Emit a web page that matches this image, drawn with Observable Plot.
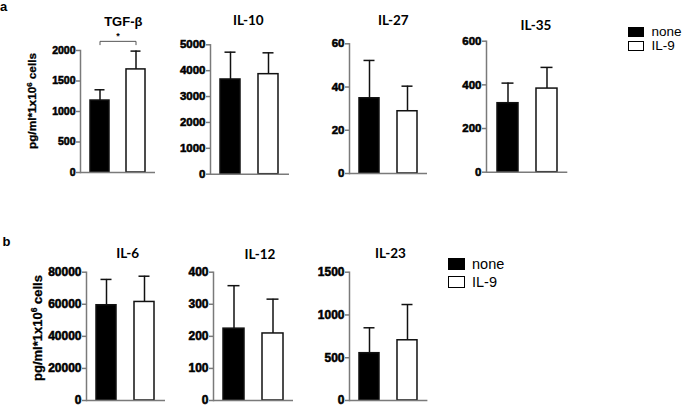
<!DOCTYPE html>
<html><head><meta charset="utf-8">
<script src="https://cdn.jsdelivr.net/npm/d3@7"></script>
<script src="https://cdn.jsdelivr.net/npm/@observablehq/plot@0.6"></script>
<style>
body{margin:0;background:#fff;}
#root{position:relative;width:685px;height:406px;overflow:hidden;font-family:"Liberation Sans",Arial,sans-serif;color:#000;}
.abs{position:absolute;white-space:nowrap;line-height:1;}
.ttl{transform:translate(-50%,-50%);font-weight:bold;font-family:Lato,"Liberation Sans",sans-serif;font-size:13.5px;}
.ylab{transform:translate(-50%,-50%) rotate(-90deg);font-weight:bold;-webkit-text-stroke:0.3px #000;}
.ylab sup{font-size:0.65em;vertical-align:0.55em;line-height:0;}
.sw{position:absolute;box-sizing:border-box;border:1.5px solid #000;}
.leg{position:absolute;transform:translateY(-50%);line-height:1;}
.plot{position:absolute;}
.plot text{font-weight:bold !important;font-family:"Liberation Sans",Arial,sans-serif !important;}
.plot g[aria-label="y-axis tick label"] text, .plot g[aria-label="y-axis tick label"]{stroke:#000 !important;stroke-width:0.55px !important;}
</style></head>
<body><div id="root"></div>
<script>
// ---- data ----
const groups = ["none", "IL-9"];

const tgfMean = [1180, 1690];
const tgfSD = [176, 300];
const tgfTicks = [0, 500, 1000, 1500, 2000];

const il10Mean = [3660, 3865];
const il10SD = [1055, 825];
const il10Ticks = [0, 1000, 2000, 3000, 4000, 5000];

const il27Mean = [34.8, 28.8];
const il27SD = [17.5, 11.6];
const il27Ticks = [0, 20, 40, 60];

const il35Mean = [316, 383];
const il35SD = [92, 97];
const il35Ticks = [0, 200, 400, 600];

const il6Mean = [59400, 61450];
const il6SD = [16100, 16050];
const il6Ticks = [0, 20000, 40000, 60000, 80000];

const il12Mean = [224, 209];
const il12SD = [134, 107];
const il12Ticks = [0, 100, 200, 300, 400];

const il23Mean = [553, 704];
const il23SD = [297, 418];
const il23Ticks = [0, 500, 1000, 1500];

// significance bracket (TGF-β), in data units
const sigX = ["none", "none", "IL-9", "IL-9"];
const sigY = [2095, 2150, 2150, 2095];
const sigStarY = 2235;

const titles = ["TGF-β", "IL-10", "IL-27", "IL-35", "IL-6", "IL-12", "IL-23"];
const yLabel = "pg/ml*1x10<sup>6</sup> cells";

// ---- drawing ----
const root = document.getElementById("root");
const axisColor = "#7a7a7a";

function panel({means, sds, ticks, axisX, endX, yTop, y0, top, fontSize, MB, bracket}) {
  const ML = 60, MR = 3;
  const data = groups.map((g, i) => ({g, m: means[i], e: means[i] + sds[i]}));
  const marks = [
    Plot.ruleX(data, {x: "g", y1: "m", y2: "e", stroke: "#111", strokeWidth: 1.5}),
    Plot.tickY(data, {x: "g", y: "e", stroke: "#111", strokeWidth: 1.5, insetLeft: 4.5, insetRight: 4.5}),
    Plot.barY(data, {x: "g", y: "m", fill: "g", stroke: "#111", strokeWidth: 1.5}),
    Plot.ruleY([0], {stroke: axisColor, strokeWidth: 1.5}),
    Plot.frame({anchor: "left", stroke: axisColor, strokeWidth: 1.5}),
    Plot.axisY({ticks, tickSize: 4, tickPadding: 1, tickFormat: "d", stroke: axisColor, strokeWidth: 1.5, fill: "#000", fontWeight: "bold", fontSize})
  ];
  if (bracket) {
    const bd = sigX.map((x, i) => ({x, y: sigY[i]}));
    marks.push(Plot.line(bd, {x: "x", y: "y", stroke: "#555", strokeWidth: 1}));
    marks.push(Plot.text(["*"], {frameAnchor: "middle", y: () => sigStarY, text: d => d, fontSize: 9, fontWeight: "bold"}));
  }
  const chart = Plot.plot({
    width: ML + (endX - axisX) + MR,
    height: (y0 - top) + MB,
    marginLeft: ML, marginRight: MR, marginTop: yTop - top, marginBottom: MB,
    x: {domain: groups, paddingInner: 0.47, paddingOuter: 0.26, axis: null},
    y: {domain: [ticks[0], ticks[ticks.length - 1]]},
    color: {domain: groups, range: ["#000", "#fff"]},
    style: {fontFamily: "'Liberation Sans', Arial, sans-serif", fontSize: fontSize + "px", fontWeight: "bold", overflow: "visible", background: "transparent"},
    marks
  });
  chart.classList.add("plot");
  chart.style.left = (axisX - ML) + "px";
  chart.style.top = top + "px";
  root.appendChild(chart);
}

panel({means: tgfMean, sds: tgfSD, ticks: tgfTicks, axisX: 80, endX: 155, yTop: 50, y0: 172, top: 0, fontSize: 10.5, MB: 8, bracket: true});
panel({means: il10Mean, sds: il10SD, ticks: il10Ticks, axisX: 210, endX: 289, yTop: 44.3, y0: 173.7, top: 0, fontSize: 11.5, MB: 8});
panel({means: il27Mean, sds: il27SD, ticks: il27Ticks, axisX: 349, endX: 427, yTop: 43.3, y0: 173, top: 0, fontSize: 11.5, MB: 8});
panel({means: il35Mean, sds: il35SD, ticks: il35Ticks, axisX: 485.7, endX: 567, yTop: 40.7, y0: 171.7, top: 0, fontSize: 11.5, MB: 8});
panel({means: il6Mean, sds: il6SD, ticks: il6Ticks, axisX: 86, endX: 165, yTop: 271.7, y0: 400, top: 200, fontSize: 12, MB: 6});
panel({means: il12Mean, sds: il12SD, ticks: il12Ticks, axisX: 213, endX: 293, yTop: 271.7, y0: 400, top: 200, fontSize: 12, MB: 6});
panel({means: il23Mean, sds: il23SD, ticks: il23Ticks, axisX: 349.3, endX: 427.7, yTop: 271.7, y0: 400, top: 200, fontSize: 12, MB: 6});

// titles
const titlePos = [[123.3, 20.7], [248.3, 20.7], [393.3, 21], [536, 25.5], [127.7, 254], [260, 254.7], [390.5, 254.3]];
titles.forEach((t, i) => {
  const d = document.createElement("div");
  d.className = "abs ttl";
  d.textContent = t;
  if (i === 0) { d.style.fontFamily = "'Liberation Sans', Arial, sans-serif"; d.style.fontSize = "13px"; }
  d.style.left = titlePos[i][0] + "px";
  d.style.top = titlePos[i][1] + "px";
  root.appendChild(d);
});

// y labels
[[33, 100.8, 11.8], [36.7, 328, 13]].forEach(([x, y, fs]) => {
  const d = document.createElement("div");
  d.className = "abs ylab";
  d.innerHTML = yLabel;
  d.style.left = x + "px"; d.style.top = y + "px"; d.style.fontSize = fs + "px";
  root.appendChild(d);
});

// panel letters
[["a", 0, 0], ["b", 2.5, 234.5]].forEach(([t, x, y]) => {
  const d = document.createElement("div");
  d.className = "abs";
  d.textContent = t;
  d.style.left = x + "px"; d.style.top = y + "px";
  d.style.fontWeight = "bold"; d.style.fontSize = "13px";
  root.appendChild(d);
});

// legends
function legend(x, y1, y2, h, fs) {
  [[groups[0], y1, "#000"], [groups[1], y2, "#fff"]].forEach(([label, cy, fill]) => {
    const s = document.createElement("div");
    s.className = "sw";
    s.style.left = x + "px"; s.style.top = (cy - h / 2) + "px";
    s.style.width = "16.5px"; s.style.height = h + "px"; s.style.background = fill;
    root.appendChild(s);
    const t = document.createElement("div");
    t.className = "leg";
    t.textContent = label;
    t.style.left = (x + 24) + "px"; t.style.top = cy + "px"; t.style.fontSize = fs + "px";
    root.appendChild(t);
  });
}
legend(627.5, 32, 46, 10, 13.5);
legend(448, 264, 282, 12.5, 14.5);
</script>
</body></html>
